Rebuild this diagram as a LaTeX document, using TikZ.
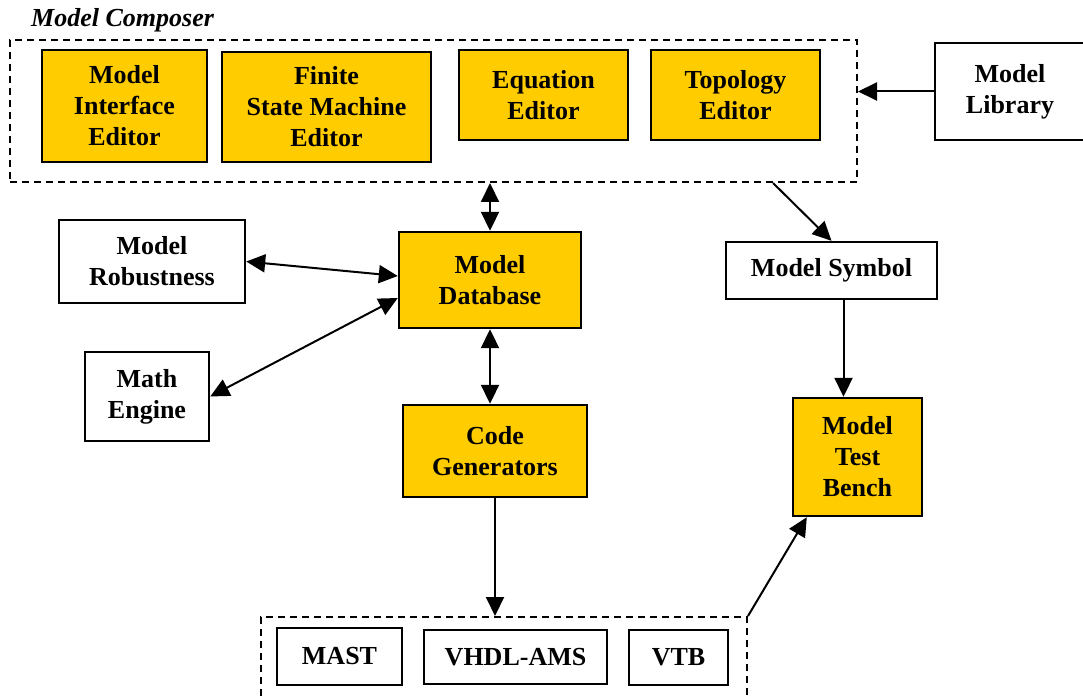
\documentclass[tikz,border=0pt]{standalone}
\usepackage{fontspec}
\setmainfont{Liberation Serif}
\usetikzlibrary{arrows.meta}
\definecolor{boxyellow}{HTML}{FFCC00}
\tikzset{
  txt/.style={font=\bfseries\fontsize{26}{31}\selectfont, align=center, inner sep=0pt},
  wbox/.style={txt, draw, line width=2.4pt, fill=white},
  ybox/.style={wbox, fill=boxyellow},
  group/.style={draw, dashed, line width=2pt, dash pattern=on 7pt off 5pt, inner sep=0pt},
  tip/.style={-{Triangle[length=19pt,width=18pt]}, line width=2pt},
  dtip/.style={{Triangle[length=19pt,width=18pt]}-{Triangle[length=19pt,width=18pt]}, line width=2pt}
}
\begin{document}
\begin{tikzpicture}[x=1pt,y=-1pt]
\useasboundingbox (0,0) rectangle (1083,700);
% title
\node[font=\bfseries\itshape\fontsize{26}{31}\selectfont, anchor=west, inner sep=0pt] (title) at (31,20) {Model Composer};
% composer group
\node[group, minimum width=847, minimum height=142] (comp) at (433.5,111) {};
\node[ybox, minimum width=165, minimum height=112] (mie) at (124.5,106) {Model\\Interface\\Editor};
\node[ybox, minimum width=209, minimum height=110] (fsm) at (326.5,107) {Finite\\State Machine\\Editor};
\node[ybox, minimum width=169, minimum height=90] (eq) at (543.5,95) {Equation\\Editor};
\node[ybox, minimum width=169, minimum height=90] (topo) at (735.5,95) {Topology\\Editor};
% library
\node[wbox, minimum width=150, minimum height=97] (lib) at (1010,91.5) {Model\\Library};
% left side
\node[wbox, minimum width=186, minimum height=83] (rob) at (152,261.5) {Model\\Robustness};
\node[wbox, minimum width=124, minimum height=89] (math) at (147,396.5) {Math\\Engine};
\node[ybox, minimum width=182, minimum height=96] (db) at (490,280) {Model\\Database};
\node[ybox, minimum width=184, minimum height=92] (cg) at (495,451) {Code\\Generators};
% right side
\node[wbox, minimum width=211, minimum height=57] (sym) at (831.5,270.5) {Model Symbol};
\node[ybox, minimum width=129, minimum height=118] (tb) at (857.5,457) {Model\\Test\\Bench};
% output group
\node[group, minimum width=486, minimum height=84] (out) at (504,659) {};
\node[wbox, minimum width=125, minimum height=57] (mast) at (339.5,656.5) {MAST};
\node[wbox, minimum width=183, minimum height=54] (vhdl) at (515.5,657) {VHDL-AMS};
\node[wbox, minimum width=99, minimum height=55] (vtb) at (678.5,657.5) {VTB};
% connectors
\draw[tip] (lib.west) -- (comp.east |- lib.west);
\draw[dtip] (db.north |- comp.south) -- (db.north);
\draw[dtip] (rob.east) -- ([yshift=4pt]db.west);
\draw[dtip] (math.east) -- ([yshift=-18pt]db.west);
\draw[dtip] (db.south) -- (db.south |- cg.north);
\draw[tip] (cg.south) -- (cg.south |- out.north);
\draw[tip] ([xshift=-85pt]comp.south east) -- (sym.north);
\draw[tip] ([xshift=12pt]sym.south) -- ([xshift=12pt]sym.south |- tb.north);
\draw[tip] (out.north east) -- ([xshift=15pt]tb.south west);
\end{tikzpicture}
\end{document}
